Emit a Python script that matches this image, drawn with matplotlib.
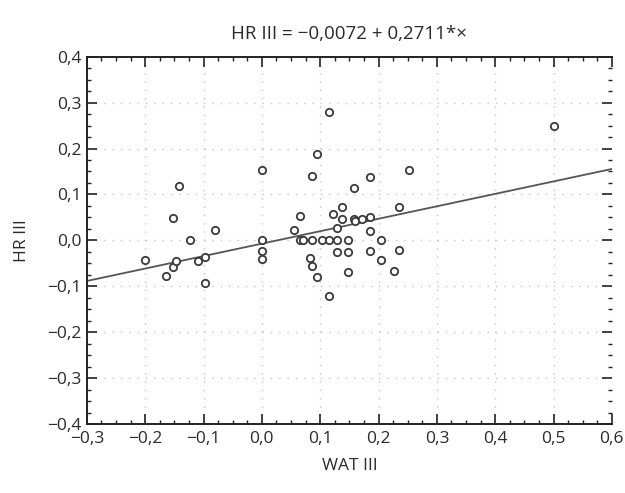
import matplotlib
matplotlib.use("Agg")
import matplotlib.pyplot as plt
from matplotlib.ticker import MultipleLocator, FuncFormatter
import numpy as np

plt.rcParams['font.family'] = ['Open Sans', 'DejaVu Sans']

wat = [-0.200, -0.165, -0.152, -0.148, -0.152, -0.142, -0.123, -0.110, -0.097, -0.097, -0.080,
       0.000, 0.000, 0.000, 0.000,
       0.115, 0.095, 0.086, 0.186, 0.253, 0.158, 0.137, 0.235, 0.122, 0.138, 0.158, 0.159,
       0.171, 0.186, 0.066, 0.055, 0.129, 0.186,
       0.066, 0.071, 0.086, 0.103, 0.115, 0.129, 0.148, 0.205,
       0.129, 0.148, 0.186, 0.235, 0.082, 0.086, 0.095, 0.148, 0.205, 0.227, 0.115, 0.500]
hr = [-0.042, -0.077, -0.059, -0.046, 0.049, 0.118, 0.000, -0.044, -0.037, -0.092, 0.023,
      0.154, 0.000, -0.024, -0.041,
      0.279, 0.187, 0.140, 0.139, 0.153, 0.114, 0.073, 0.073, 0.058, 0.047, 0.047, 0.042,
      0.046, 0.051, 0.052, 0.023, 0.026, 0.020,
      0.000, 0.000, 0.000, 0.000, 0.000, 0.000, 0.000, 0.000,
      -0.026, -0.026, -0.024, -0.022, -0.038, -0.056, -0.080, -0.069, -0.042, -0.067, -0.122, 0.250]

intercept = -0.0072
slope = 0.2711

fig = plt.figure(figsize=(6.25, 4.93), dpi=100)
ax = fig.add_axes([0.139, 0.140, 0.840, 0.745])

ax.set_xlim(-0.3, 0.6)
ax.set_ylim(-0.4, 0.4)

ax.grid(True, which='major', linestyle=(0, (1, 5)), color='#c4c4c4', linewidth=1.0)
ax.set_axisbelow(True)

xl = np.array([-0.3, 0.6])
ax.plot(xl, intercept + slope * xl, color='#555555', linewidth=1.3, zorder=2)
ax.plot(wat, hr, linestyle='none', marker='o', markersize=5.3, markerfacecolor='white',
        markeredgecolor='#3a3a3a', markeredgewidth=1.3, zorder=3)

ax.xaxis.set_major_locator(MultipleLocator(0.1))
ax.yaxis.set_major_locator(MultipleLocator(0.1))
ax.xaxis.set_minor_locator(MultipleLocator(0.025))
ax.yaxis.set_minor_locator(MultipleLocator(0.025))

def fmt(v, pos):
    s = f"{v:.1f}".replace('.', ',')
    if s.startswith('-'):
        s = '\u2212' + s[1:]
    if s == '\u22120,0':
        s = '0,0'
    return s

ax.xaxis.set_major_formatter(FuncFormatter(fmt))
ax.yaxis.set_major_formatter(FuncFormatter(fmt))

ax.tick_params(which='both', direction='in', top=True, right=True, colors='#222222',
               labelsize=12.5, labelcolor='#2a2a2a')
ax.tick_params(which='major', length=7, width=1.2)
ax.tick_params(which='minor', length=3, width=1.0)
ax.tick_params(axis='x', pad=5)
ax.tick_params(axis='y', pad=4)

for s in ['left', 'bottom', 'top']:
    ax.spines[s].set_color('#222222')
    ax.spines[s].set_linewidth(1.4)
ax.spines['right'].set_visible(False)

ax.set_xlabel('WAT III', fontsize=12.5, color='#2a2a2a', labelpad=8)
ax.set_ylabel('HR III', fontsize=12.5, color='#2a2a2a', labelpad=12)
ax.set_title('HR III = \u22120,0072 + 0,2711*\u00d7', fontsize=13.5, color='#2a2a2a', pad=13)

fig.savefig('out.png', dpi=100, facecolor='white')
